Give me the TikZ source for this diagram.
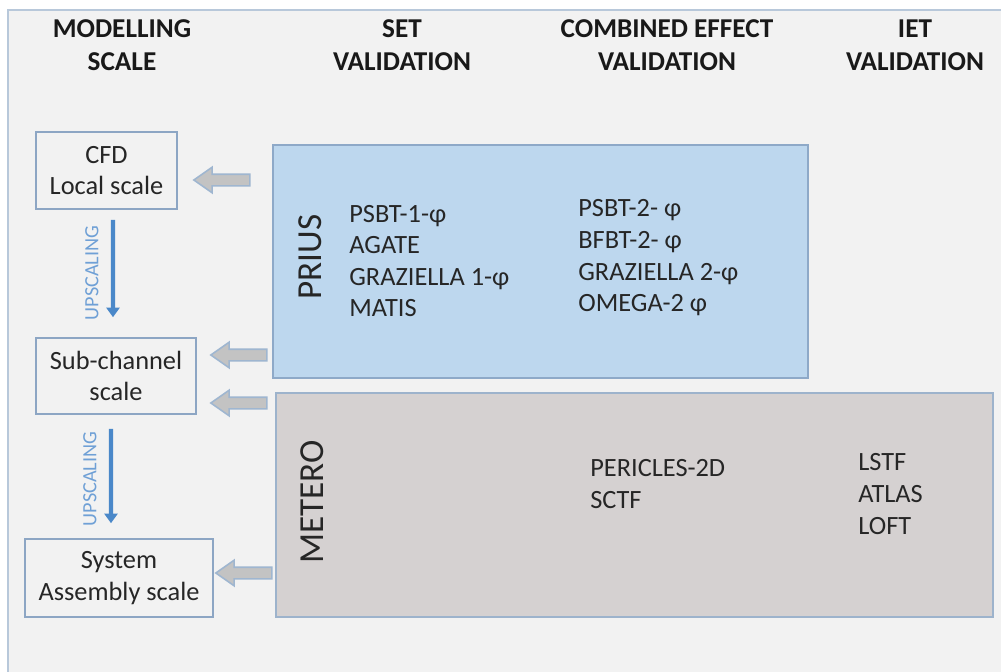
\documentclass[tikz,border=0pt]{standalone}
\usepackage{fontspec}
\setmainfont{Carlito}
\usetikzlibrary{arrows.meta,shapes.arrows}
\definecolor{bgray}{HTML}{F2F2F2}
\definecolor{frameline}{HTML}{B8C8DA}
\definecolor{boxline}{HTML}{8DA6C4}
\definecolor{priusfill}{HTML}{BDD7EE}
\definecolor{priusline}{HTML}{8EA9C8}
\definecolor{meterofill}{HTML}{D5D1D1}
\definecolor{meteroline}{HTML}{9DB3CC}
\definecolor{arrowfill}{HTML}{C3C3C3}
\definecolor{arrowline}{HTML}{9FB6D0}
\definecolor{upblue}{HTML}{4A88C9}
\definecolor{uptext}{HTML}{6FA0D6}
\definecolor{textgray}{HTML}{262626}

\begin{document}
\begin{tikzpicture}[x = 0.2mm, y = -0.2mm,
	every node/.style = {font = \fontsize{15}{18}\selectfont, text = textgray},
	scalebox/.style = {draw = boxline, fill = bgray, line width = 0.9pt, align = center, inner sep = 0pt},
	head/.style = {align = center, font = \bfseries\fontsize{15.5}{19}\selectfont, text = black!90},
	group/.style = {line width = 1pt, inner sep = 0pt},
	grouplabel/.style = {rotate = 90, font = \fontsize{20}{24}\selectfont},
	tests/.style = {anchor = west, align = left, inner sep = 0pt},
	feed/.style = {single arrow, shape border rotate = 180, draw = arrowline, fill = arrowfill, line width = 0.9pt,
		minimum height = 11.2mm, minimum width = 0pt, inner xsep = 0pt, inner ysep = 1mm,
		single arrow head extend = 1.4mm, single arrow tip angle = 70},
	upscale/.style = {draw = upblue, line width = 2.4pt, -{Triangle[width = 7.5pt, length = 5.5pt]}},
	upscaletext/.style = {rotate = 90, text = uptext, font = \fontsize{11.5}{13}\selectfont}]

	\clip (0, 0) rectangle (1001, 672);
	\fill[white] (0, 0) rectangle (1001, 672);
	\draw[draw = frameline, fill = bgray, line width = 1.1pt] (8, 10) rectangle (1040, 700);

	\node (HModel) at (122, 45) [head] {MODELLING\\SCALE};
	\node (HSet)   at (402, 45) [head] {SET\\VALIDATION};
	\node (HComb)  at (667, 45) [head] {COMBINED EFFECT\\VALIDATION};
	\node (HIET)   at (915, 45) [head] {IET\\VALIDATION};

	\node (CFD) at (106.5, 170.5) [scalebox, minimum width = 28.2mm, minimum height = 15.4mm] {CFD\\Local scale};
	\node (Sub) at (116,   376)   [scalebox, minimum width = 32mm,   minimum height = 15.2mm] {Sub-channel\\scale};
	\node (Sys) at (119,   578)   [scalebox, minimum width = 37.6mm, minimum height = 15.6mm] {System\\Assembly scale};

	\node (PRIUS)  at (540.5, 261.5) [group, draw = priusline, fill = priusfill, minimum width = 107mm, minimum height = 46.6mm] {};
	\node (METERO) at (634.5, 505)   [group, draw = meteroline, fill = meterofill, minimum width = 143.4mm, minimum height = 44.8mm] {};
	\node (PRIUSlabel)  at (310, 257) [grouplabel] {PRIUS};
	\node (METEROlabel) at (312, 502) [grouplabel] {METERO};

	\node (PRIUSset)   at (349, 261) [tests] {PSBT-1-φ\\AGATE\\GRAZIELLA 1-φ\\MATIS};
	\node (PRIUScomb)  at (578, 258) [tests] {PSBT-2- φ\\BFBT-2- φ\\GRAZIELLA 2-φ\\OMEGA-2 φ};
	\node (METEROcomb) at (590, 484) [tests] {PERICLES-2D\\SCTF};
	\node (METEROiet)  at (858, 494) [tests] {LSTF\\ATLAS\\LOFT};

	\foreach \name/\x/\y in {toCFD/226/180, toSubA/243/355, toSubB/243/403, toSys/248/573}
		\node (\name) at (\x, \y) [feed] {};

	\coordinate (upAtop) at ([xshift = 1.3mm, yshift = -2mm]CFD.south);
	\coordinate (upAbot) at ([xshift = -0.6mm, yshift = 4mm]Sub.north);
	\coordinate (upBtop) at ([xshift = -1mm, yshift = -2.8mm]Sub.south);
	\coordinate (upBbot) at ([xshift = -1.6mm, yshift = 3mm]Sys.north);

	\path (upAtop) edge [upscale] node[midway, xshift = -4.2mm, yshift = -0.9mm, upscaletext] {UPSCALING} (upAbot);
	\path (upBtop) edge [upscale] node[midway, xshift = -4.2mm, yshift = -0.6mm, upscaletext] {UPSCALING} (upBbot);

\end{tikzpicture}
\end{document}
